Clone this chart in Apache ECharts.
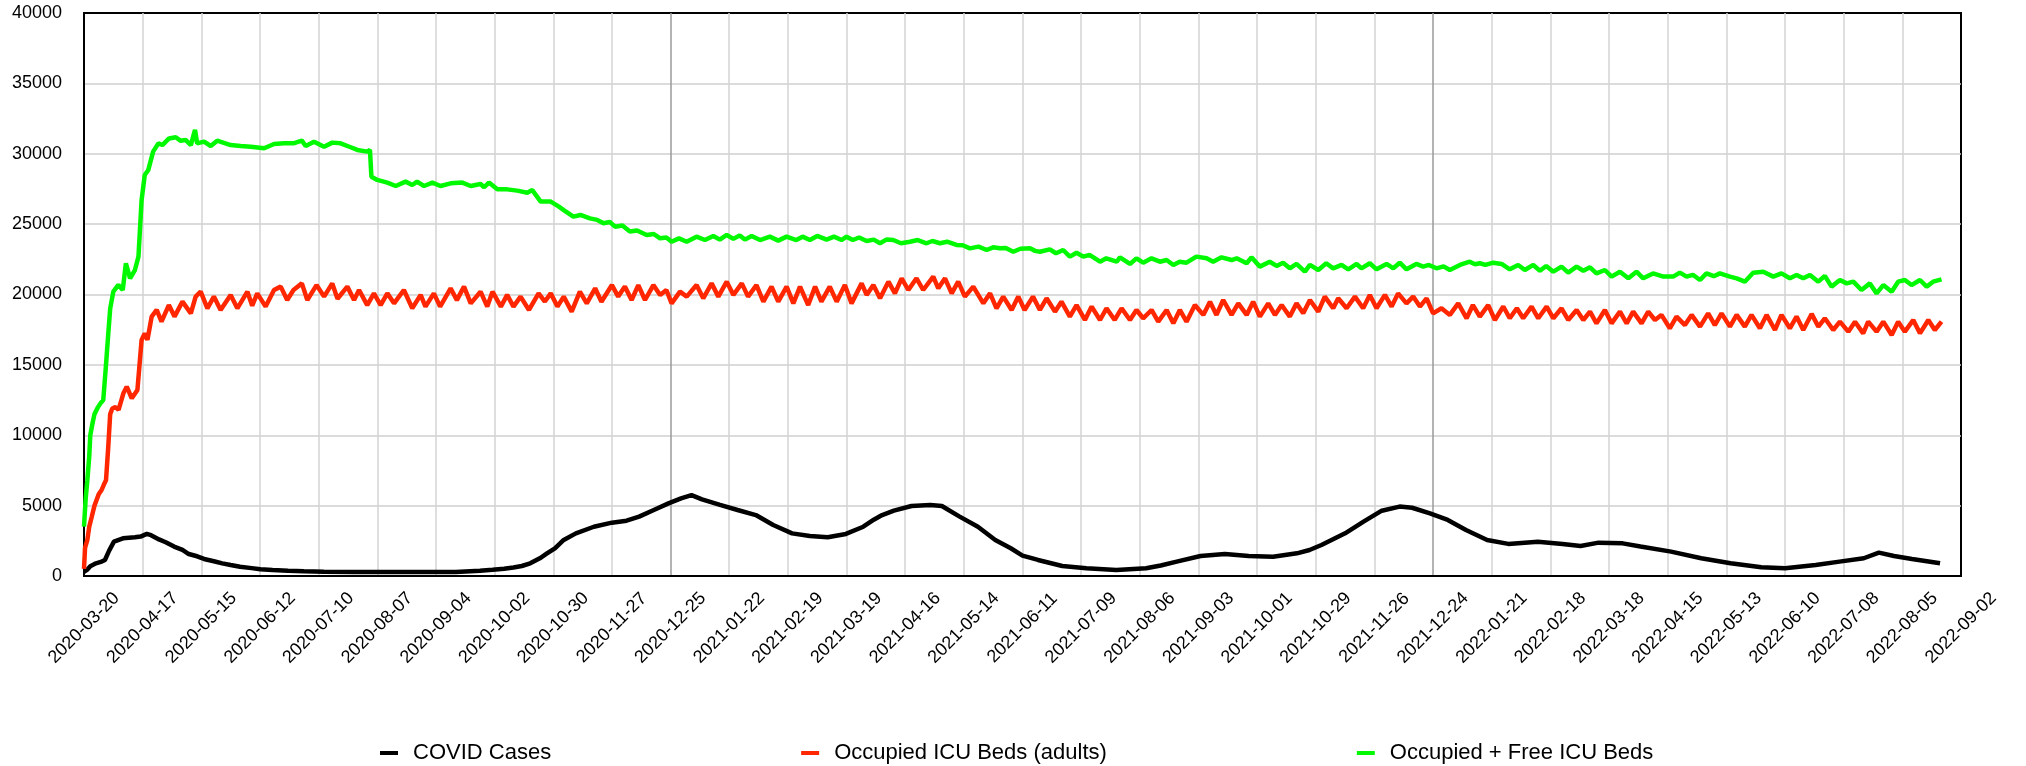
<!DOCTYPE html>
<html>
<head>
<meta charset="utf-8">
<script src="https://cdn.jsdelivr.net/npm/echarts@6/dist/echarts.min.js"></script>
<style>
html, body { margin: 0; padding: 0; background: #fff; }
#chart { width: 2026px; height: 766px; }
</style>
</head>
<body>
<div id="chart"></div>
<script>
// x values are days since 2020-03-20
const tickLabels = [
    '2020-03-20', '2020-04-17', '2020-05-15', '2020-06-12', '2020-07-10', '2020-08-07',
    '2020-09-04', '2020-10-02', '2020-10-30', '2020-11-27', '2020-12-25', '2021-01-22',
    '2021-02-19', '2021-03-19', '2021-04-16', '2021-05-14', '2021-06-11', '2021-07-09',
    '2021-08-06', '2021-09-03', '2021-10-01', '2021-10-29', '2021-11-26', '2021-12-24',
    '2022-01-21', '2022-02-18', '2022-03-18', '2022-04-15', '2022-05-13', '2022-06-10',
    '2022-07-08', '2022-08-05', '2022-09-02'
];

const covidCases = [
    [0,300],[1.4,430],[3,700],[5.7,900],[8,1000],[10,1140],[12,1800],[14.3,2440],[18.6,2680],[24.3,2750],
    [27,2800],[30,2990],[32,2900],[35.8,2600],[39,2400],[43,2090],[47,1850],[50,1560],[54,1400],[57.3,1210],
    [62,1050],[66,900],[70,780],[74.5,660],[80,560],[84.2,480],[90,420],[97.4,380],[105,340],[114.5,310],
    [129,290],[143,280],[160,280],[177.5,290],[189,380],[195,450],[200.5,520],[205,600],[209,710],[213,900],
    [217.6,1260],[221,1600],[224.8,1970],[229,2560],[234.8,3030],[243.4,3500],[252,3790],[259,3930],[265,4220],[272,4690],
    [279,5160],[285,5520],[290,5750],[295,5450],[303.6,5050],[312,4690],[320.7,4330],[329,3620],[338,3030],[346.5,2840],
    [355,2750],[363.7,2990],[372,3500],[377,4000],[381,4330],[386.6,4640],[395,4970],[404,5050],[409.5,4970],[418,4220],
    [426.7,3500],[435,2560],[442.4,1970],[448,1450],[455.4,1140],[467,710],[478.5,545],[492.8,430],[507,545],[514,750],
    [521.6,1020],[533,1420],[544.6,1560],[556,1420],[567.6,1370],[579,1610],[585,1850],[590.7,2200],[602,3030],[610.8,3860],
    [619.5,4640],[628,4930],[634,4850],[642.5,4450],[651,3980],[659.7,3270],[669.8,2560],[679.9,2280],[694,2440],[705.8,2280],
    [714.4,2130],[723,2370],[734.5,2320],[743,2090],[757.6,1730],[772,1260],[786,900],[800.7,620],[812,545],[826.6,780],
    [838,1020],[849.6,1260],[856.8,1660],[864,1420],[872.6,1210],[886,900]
];

const occupiedBeds = [
    [0,500],[0.5,2000],[1.6,2560],[2.5,3500],[3.7,4210],[5,5000],[6,5400],[7,5800],[8.4,6110],[9.5,6500],
    [10.5,6800],[11.5,9000],[12.5,11500],[13.5,11900],[15,12000],[16.5,11800],[18.8,12980],[20.4,13450],[22.8,12630],[25.5,13220],
    [27.5,16770],[29,17240],[30.3,16770],[32.3,18430],[34.7,18900],[37,18070],[40.5,19250],[43.2,18430],[47,19490],[51,18660],
    [53.3,19850],[55.7,20200],[58.9,19020],[62,19850],[65.2,18900],[70,19970],[73.2,19020],[78,20200],[80.3,19200],[82.7,20080],
    [86.7,19140],[90.7,20320],[93.9,20560],[97,19610],[100,20320],[104,20790],[106.6,19610],[111,20670],[114.6,19850],[118.5,20790],
    [121,19700],[125.7,20560],[128.9,19610],[131.3,20320],[135.2,19250],[138.4,20080],[141.6,19250],[144.8,20080],[148,19370],[152.7,20320],
    [156.7,19020],[160.7,19970],[163,19140],[167,20080],[170,19140],[175,20440],[178,19600],[181.4,20560],[184.6,19370],[189.3,20200],
    [192.5,19140],[195,20200],[199,19140],[202,19970],[205,19140],[208.4,19850],[212.4,18900],[217,20080],[220,19500],[222.8,20080],
    [226,19140],[229,19850],[232.8,18780],[236.7,20200],[240,19370],[244,20440],[247,19490],[252,20670],[255,19850],[258.2,20560],
    [261.4,19610],[264.6,20670],[267.8,19610],[271.8,20670],[275,19970],[278,20320],[280.5,19370],[284.5,20200],[287.7,19850],[292.4,20670],
    [295.6,19730],[299.6,20790],[302.8,19850],[306.8,20910],[310,19970],[314,20790],[317,19850],[321,20670],[324.3,19490],[328.2,20560],
    [331.4,19490],[335.4,20560],[338.6,19370],[341.8,20560],[345.7,19250],[349,20560],[352,19490],[356,20560],[359.3,19490],[363.2,20670],
    [366.4,19370],[371.2,20790],[373.6,19970],[376.8,20670],[380,19730],[384,20910],[387.1,20080],[390.3,21150],[393.5,20320],[397.4,21150],
    [400.6,20320],[405.4,21270],[407.8,20440],[411,21150],[414.2,20080],[417.3,20910],[420.5,19850],[424.5,20560],[429.3,19370],[432.5,20080],
    [435.6,19020],[438.8,19850],[442.8,18900],[446,19850],[449,18900],[453,19850],[456.3,18900],[459.5,19730],[463.5,18780],[466.6,19490],
    [470.6,18430],[473.8,19250],[477.8,18190],[481,19140],[485,18190],[488.1,19020],[492,18190],[495.3,19020],[499.3,18190],[502.4,18900],
    [505.6,18310],[509.6,18900],[512.8,18070],[516.8,18900],[520,17950],[523.1,18900],[526.3,18070],[530.3,19250],[534.3,18550],[537.5,19490],
    [540.6,18550],[543.8,19610],[547.8,18550],[551,19370],[555,18550],[558.1,19490],[561.3,18430],[565.3,19370],[568.5,18550],[571.7,19250],
    [575.6,18430],[578.8,19370],[582,18660],[585.2,19610],[589.2,18780],[592.3,19850],[596.3,19020],[598.7,19730],[602.7,19020],[606.7,19850],
    [610.6,19020],[613.8,19970],[617,19020],[621,19970],[624.2,19140],[627.3,20080],[631.3,19370],[634.5,19850],[637.7,19140],[640.9,19730],
    [644,18660],[648,19020],[652,18550],[656,19370],[660,18310],[663,19250],[666.3,18430],[670.3,19250],[673.5,18190],[677.5,19150],
    [680.6,18310],[684,19020],[687,18310],[691,19140],[694.2,18310],[698.2,19140],[701.4,18310],[705.3,19020],[708.5,18190],[712.5,18900],
    [715.7,18190],[718.9,18780],[722,17950],[726,18900],[729.2,17950],[733.2,18780],[736.4,17950],[739.5,18780],[743.5,17950],[746.7,18780],
    [749.9,18190],[753,18550],[757,17600],[760.2,18430],[764.2,17830],[767.4,18550],[771.4,17720],[775.3,18660],[778.5,17830],[781.7,18660],
    [785.7,17720],[788.9,18550],[792.8,17720],[796,18550],[800,17600],[803.2,18550],[807.2,17480],[810.3,18550],[814.3,17600],[817.5,18430],
    [820.7,17480],[824.7,18620],[827.9,17720],[831,18310],[835,17480],[838.2,18070],[842.2,17360],[845.4,18070],[849.3,17240],[851.7,18070],
    [855.7,17360],[858.9,18070],[862.9,17120],[866,18070],[869.2,17360],[873.2,18190],[876.4,17240],[880.4,18190],[883.5,17480],[886.7,18070]
];

const totalBeds = [
    [0,3500],[0.8,5500],[1.6,6800],[2.5,8500],[3,10000],[4,10800],[5,11500],[6.7,12000],[8,12300],[9.2,12500],
    [10.5,15000],[11.6,17240],[12.5,19000],[14,20200],[16.4,20680],[18.5,20320],[20,22220],[22,21150],[24.3,21740],[26,22690],
    [27.5,26720],[29,28490],[30.7,28850],[33,30150],[35.5,30740],[37.4,30620],[40.6,31090],[43.8,31170],[46,30930],[48.5,30980],
    [51,30620],[53,31690],[54,30740],[57.3,30860],[60.5,30550],[63.6,30930],[65,30860],[70,30620],[74.8,30550],[79.6,30500],
    [86,30390],[90.7,30690],[95.5,30740],[100,30740],[104,30930],[105.8,30550],[109.8,30860],[114.6,30500],[118.5,30790],[122.5,30740],
    [127.3,30460],[130.5,30270],[135.2,30150],[136.5,30270],[137.2,28370],[140,28140],[144.8,27950],[148.8,27710],[153.5,28020],[156.7,27780],
    [159,28020],[162.3,27710],[166.3,27950],[170.2,27710],[175,27900],[180.6,27950],[184.6,27710],[189.3,27850],[191,27620],[193.3,27950],
    [197.3,27470],[202,27470],[206.8,27380],[211.6,27230],[214,27420],[218,26600],[222.8,26600],[226.7,26240],[229,26000],[233.6,25530],
    [237,25650],[241.5,25410],[245,25300],[248,25060],[251,25150],[253.5,24820],[257,24900],[260.6,24470],[264,24550],[268.6,24230],
    [272,24300],[275,23990],[278,24050],[280.5,23750],[284,23990],[287.7,23750],[292.4,24110],[296.4,23870],[300.4,24160],[303.5,23900],
    [306.8,24230],[310,23950],[313,24200],[315.5,23900],[318.7,24160],[322.7,23870],[327.4,24110],[331.4,23830],[335.4,24110],[340,23870],
    [343,24110],[346.5,23870],[350,24160],[354.5,23900],[358,24110],[361.6,23870],[364,24110],[367,23870],[370,24050],[373.6,23800],
    [377,23900],[380,23640],[383,23900],[386.3,23870],[390,23640],[394.3,23750],[398,23870],[402.2,23640],[405,23800],[408.6,23640],
    [412,23750],[416.5,23520],[419.5,23500],[422.9,23280],[427,23400],[430.9,23160],[434,23350],[437.2,23280],[440,23300],[443.6,23040],
    [447,23250],[451.6,23280],[454,23100],[456.3,23040],[461,23210],[464,22930],[467.4,23160],[470.6,22690],[473.8,22970],[477,22690],
    [480,22810],[485,22330],[488,22570],[493,22330],[494.5,22640],[499.3,22170],[502.4,22570],[505.6,22260],[509.6,22570],[513.6,22330],
    [516.8,22450],[520,22100],[523,22330],[526.3,22260],[531,22690],[535.9,22570],[539,22330],[543,22640],[547.8,22450],[550.2,22570],
    [555,22220],[557.3,22640],[561.3,21980],[566,22330],[569.3,22030],[572.4,22260],[575.6,21860],[578.8,22170],[582.8,21620],[585.2,22100],
    [589.2,21740],[593,22220],[596.3,21860],[600.3,22100],[603.5,21790],[607.5,22170],[609.8,21860],[613.8,22220],[617,21790],[621.8,22170],
    [625,21860],[628.1,22260],[631.3,21790],[636,22170],[639.3,21980],[642,22100],[645.6,21860],[649,22000],[652,21740],[656.8,22100],
    [661.5,22330],[664,22150],[666.3,22220],[669,22100],[672.7,22260],[676.7,22170],[680.6,21790],[684.6,22100],[687.8,21740],[691.8,22100],
    [695,21690],[698,22030],[701.4,21620],[705.3,21980],[708.5,21550],[712.5,21980],[715.7,21690],[718.9,21930],[722,21500],[726,21740],
    [729.2,21270],[733.2,21620],[737.2,21150],[741.1,21620],[744.3,21150],[749,21500],[753.9,21270],[758.6,21270],[761.8,21550],[765,21270],
    [768,21400],[771.4,21030],[774.5,21500],[778,21300],[780.9,21500],[785.7,21270],[788.9,21150],[792.8,20910],[796.8,21550],[801.6,21620],
    [806.4,21270],[810.3,21500],[814.3,21150],[817.5,21390],[820.7,21150],[823.9,21390],[827.9,20910],[831,21320],[834.2,20560],[838.2,21030],
    [841.4,20790],[844.6,20910],[848.5,20320],[852.5,20790],[855.7,20080],[858.9,20670],[862.9,20200],[866,20910],[869.2,21030],[872.4,20670],
    [876.4,21030],[879.6,20560],[882.7,20910],[886.7,21080]
];

const seriesNames = ['COVID Cases', 'Occupied ICU Beds (adults)', 'Occupied + Free ICU Beds'];
const seriesColors = ['#000000', '#ff2600', '#00f900'];

// vertical grid lines every 28 days; the min line is skipped, so drawn line k is tick k+1.
// ticks 10 and 23 (2020-12-25, 2021-12-24) are darker -> drawn lines 9 and 22
const vLineColors = [];
for (let i = 0; i < 13; i++) vLineColors.push(i === 9 ? '#9a9a9a' : '#d3d3d3');

const chart = echarts.init(document.getElementById('chart'));

const font = 'Liberation Sans, Arial, Helvetica, sans-serif';

chart.setOption({
    animation: false,
    backgroundColor: '#fff',
    grid: {
        left: 84, right: 65, top: 13, bottom: 190,
        show: true, borderColor: '#000', borderWidth: 2,
        outerBoundsMode: 'none'
    },
    legend: {
        data: seriesNames,
        left: 375,
        top: 737,
        icon: 'rect',
        itemWidth: 18,
        itemHeight: 4,
        itemGap: 250,
        textStyle: { fontFamily: font, fontSize: 22, color: '#000', padding: [0, 0, 0, 10] }
    },
    xAxis: {
        type: 'value',
        min: 0,
        max: 896,
        interval: 28,
        axisLine: { show: true, lineStyle: { color: '#000', width: 2 } },
        axisTick: { show: false },
        splitLine: {
            show: true, showMinLine: false, showMaxLine: false,
            lineStyle: { color: vLineColors, width: 1.5 }
        },
        axisLabel: {
            rotate: 45,
            align: 'center',
            verticalAlign: 'middle',
            margin: 52,
            fontFamily: font,
            fontSize: 18,
            color: '#000',
            showMinLabel: true,
            showMaxLabel: true,
            formatter: v => tickLabels[Math.round(v / 28)]
        }
    },
    yAxis: {
        type: 'value',
        min: 0,
        max: 40000,
        interval: 5000,
        axisLine: { show: true, lineStyle: { color: '#000', width: 2 } },
        axisTick: { show: false },
        splitLine: {
            show: true, showMinLine: false, showMaxLine: false,
            lineStyle: { color: '#cfcfcf', width: 1.5 }
        },
        axisLabel: {
            margin: 22, fontFamily: font, fontSize: 18, color: '#000',
            formatter: v => String(v)
        }
    },
    series: [covidCases, occupiedBeds, totalBeds].map((d, i) => ({
        name: seriesNames[i],
        type: 'line',
        data: d,
        showSymbol: false,
        color: seriesColors[i],
        lineStyle: { width: 4.5, color: seriesColors[i] }
    }))
});
</script>
</body>
</html>
